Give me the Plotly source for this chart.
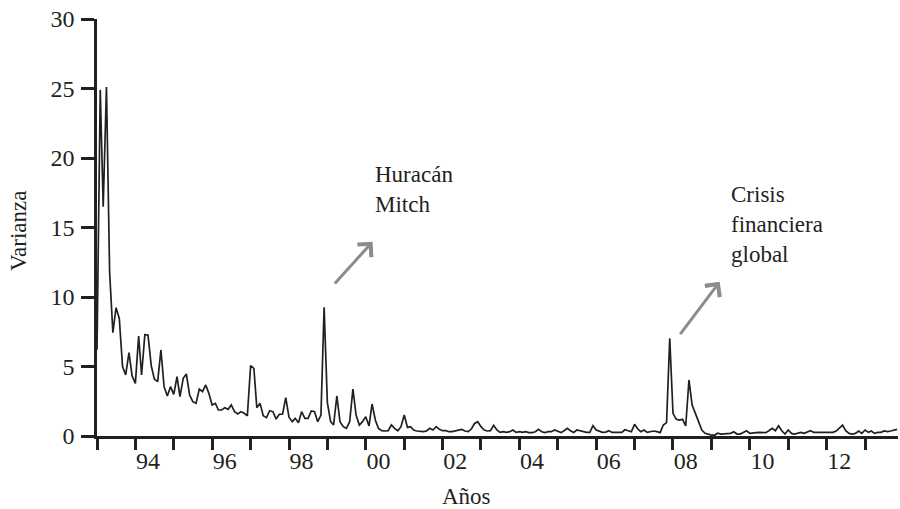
import pandas as pd
import plotly.graph_objects as go

# Monthly conditional variance, Jan 1993 - Nov 2013
varianza = [
    6.2, 24.9, 16.5, 25.1, 11.8, 7.43, 9.23, 8.46, 4.99, 4.39, 6.0, 4.32,
    3.79, 7.19, 4.39, 7.29, 7.27, 5.04, 4.08, 3.91, 6.19, 3.55, 2.88, 3.55,
    3.0, 4.27, 2.83, 4.15, 4.46, 2.95, 2.47, 2.35, 3.38, 3.19, 3.67, 3.07,
    2.23, 2.35, 1.87, 1.87, 2.04, 1.92, 2.23, 1.75, 1.58, 1.75, 1.63, 1.46,
    5.06, 4.87, 2.04, 2.35, 1.46, 1.32, 1.82, 1.75, 1.22, 1.56, 1.58, 2.76,
    1.35, 1.03, 1.27, 0.96, 1.75, 1.27, 1.27, 1.8, 1.75, 1.03, 1.51, 9.26,
    2.4, 1.03, 0.79, 2.88, 1.03, 0.67, 0.55, 1.03, 3.38, 1.51, 0.79, 1.03,
    1.39, 0.72, 2.3, 1.15, 0.55, 0.38, 0.36, 0.38, 0.79, 0.55, 0.38, 0.67,
    1.51, 0.62, 0.67, 0.43, 0.36, 0.31, 0.31, 0.36, 0.55, 0.43, 0.67, 0.48,
    0.38, 0.38, 0.31, 0.31, 0.36, 0.43, 0.48, 0.36, 0.31, 0.5, 0.9, 1.03,
    0.67, 0.43, 0.36, 0.38, 0.77, 0.43, 0.26, 0.31, 0.26, 0.31, 0.43, 0.26,
    0.31, 0.26, 0.31, 0.24, 0.24, 0.31, 0.48, 0.31, 0.24, 0.31, 0.31, 0.43,
    0.31, 0.24, 0.38, 0.55, 0.38, 0.26, 0.43, 0.36, 0.31, 0.26, 0.26, 0.74,
    0.43, 0.31, 0.26, 0.28, 0.38, 0.26, 0.26, 0.31, 0.26, 0.45, 0.4, 0.31,
    0.84, 0.5, 0.31, 0.43, 0.26, 0.31, 0.36, 0.31, 0.24, 0.79, 0.96, 7.03,
    1.63, 1.2, 1.15, 1.2, 0.72, 4.03, 2.23, 1.63, 1.03, 0.43, 0.19, 0.12,
    0.07, 0.07, 0.2, 0.14, 0.14, 0.14, 0.19, 0.31, 0.14, 0.14, 0.26, 0.38,
    0.19, 0.19, 0.24, 0.26, 0.26, 0.24, 0.38, 0.55, 0.38, 0.74, 0.38, 0.14,
    0.43, 0.19, 0.14, 0.19, 0.26, 0.19, 0.26, 0.38, 0.26, 0.26, 0.31, 0.26,
    0.26, 0.31, 0.26, 0.36, 0.55, 0.79, 0.38, 0.19, 0.14, 0.19, 0.36, 0.19,
    0.43, 0.26, 0.36, 0.19, 0.26, 0.26, 0.36, 0.31, 0.36, 0.43, 0.48,
]
fechas = pd.date_range("1993-01-01", periods=len(varianza), freq="MS")

label_years = [1994, 1996, 1998, 2000, 2002, 2004, 2006, 2008, 2010, 2012]
label_text = ["94", "96", "98", "00", "02", "04", "06", "08", "10", "12"]
label_pos = [f"{y}-05-01" for y in label_years]
y_ticks = [0, 5, 10, 15, 20, 25, 30]

INK = "#231f20"
FONT = "Liberation Serif, Times New Roman, serif"

fig = go.Figure()
fig.add_trace(go.Scatter(x=fechas, y=varianza, mode="lines",
                         line=dict(color=INK, width=1.7), hoverinfo="skip"))

fig.update_layout(
    width=900, height=509,
    margin=dict(l=97, r=2, t=19, b=73, autoexpand=False),
    paper_bgcolor="white", plot_bgcolor="white",
    showlegend=False,
    font=dict(family=FONT, size=24, color=INK),
    xaxis=dict(
        type="date", range=["1993-01-01", "2013-11-10"], automargin=False,
        showline=True, linecolor=INK, linewidth=2.5,
        showgrid=False, zeroline=False,
        tickmode="array", tickvals=label_pos, ticktext=label_text,
        ticks="outside", ticklen=1, tickcolor="rgba(0,0,0,0)",
        ticklabeloverflow="allow",
        tickfont=dict(family=FONT, size=24, color=INK),
        minor=dict(ticks="outside", ticklen=11, tickwidth=3, tickcolor=INK,
                   tick0="1993-01-01", dtick="M12", showgrid=False),
    ),
    yaxis=dict(
        range=[0, 30], automargin=False,
        showline=True, linecolor=INK, linewidth=2.5,
        showgrid=False, zeroline=False,
        tickmode="array", tickvals=y_ticks,
        ticks="outside", ticklen=13, tickwidth=2.5, tickcolor=INK,
        ticklabelstandoff=2, ticklabeloverflow="allow",
        tickfont=dict(family=FONT, size=24, color=INK),
    ),
)

# Axis titles
fig.add_annotation(text="Años", xref="paper", yref="paper",
                   x=(466.7 - 97) / 801, y=-(496 - 436) / 417,
                   xanchor="center", yanchor="middle", showarrow=False,
                   font=dict(family=FONT, size=23, color=INK))
fig.add_annotation(text="Varianza", xref="paper", yref="paper",
                   x=-(97 - 19) / 801, y=(436 - 231) / 417, textangle=-90,
                   xanchor="center", yanchor="middle", showarrow=False,
                   font=dict(family=FONT, size=23, color=INK))

ARROW = "#8c8c8c"
# Huracán Mitch
fig.add_annotation(x="2000-03-06", y=13.98, ax="1999-02-28", ay=10.86,
                   xref="x", yref="y", axref="x", ayref="y", text="",
                   showarrow=True, arrowhead=4, arrowsize=1.2, arrowwidth=3,
                   arrowcolor=ARROW, standoff=0, startstandoff=0)
fig.add_annotation(x="2000-03-10", y=17.7, xref="x", yref="y",
                   text="Huracán<br>Mitch", showarrow=False, align="left",
                   xanchor="left", yanchor="middle",
                   font=dict(family=FONT, size=23, color=INK))
# Crisis financiera global
fig.add_annotation(x="2009-03-20", y=11.1, ax="2008-02-28", ay=7.22,
                   xref="x", yref="y", axref="x", ayref="y", text="",
                   showarrow=True, arrowhead=4, arrowsize=1.2, arrowwidth=3,
                   arrowcolor=ARROW, standoff=0, startstandoff=0)
fig.add_annotation(x="2009-06-17", y=15.25, xref="x", yref="y",
                   text="Crisis<br>financiera<br>global", showarrow=False,
                   align="left", xanchor="left", yanchor="middle",
                   font=dict(family=FONT, size=23, color=INK))

# remove the browser's default 8px body margin so the figure fills the window
fig.write_html("out.html", config={"displayModeBar": False},
               post_script="document.body.style.margin='0';")
